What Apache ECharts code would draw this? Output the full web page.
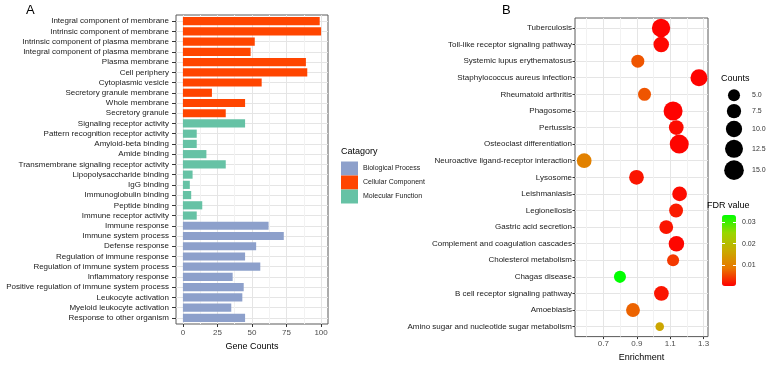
<!DOCTYPE html>
<html>
<head>
<meta charset="utf-8">
<script src="https://cdn.jsdelivr.net/npm/echarts@6.0.0/dist/echarts.min.js"></script>
<style>
  html, body { margin: 0; padding: 0; background: #fff; }
  #chart { width: 769px; height: 367px; }
</style>
</head>
<body>
<div id="chart"></div>
<script>
// Panel A: GO terms, listed top to bottom
var goTerms = [
  "Integral component of membrane", "Intrinsic component of membrane",
  "Intrinsic component of plasma membrane", "Integral component of plasma membrane",
  "Plasma membrane", "Cell periphery", "Cytoplasmic vesicle",
  "Secretory granule membrane", "Whole membrane", "Secretory granule",
  "Signaling receptor activity", "Pattern recognition receptor activity",
  "Amyloid-beta binding", "Amide binding", "Transmembrane signaling receptor activity",
  "Lipopolysaccharide binding", "IgG binding", "Immunoglobulin binding",
  "Peptide binding", "Immune receptor activity",
  "Immune response", "Immune system process", "Defense response",
  "Regulation of immune response", "Regulation of immune system process",
  "Inflammatory response", "Positive regulation of immune system process",
  "Leukocyte activation", "Myeloid leukocyte activation", "Response to other organism"
];
var goCounts = [99, 100, 52, 49, 89, 90, 57, 21, 45, 31,
                45, 10, 10, 17, 31, 7, 5, 6, 14, 10,
                62, 73, 53, 45, 56, 36, 44, 43, 35, 45];
var goGroups = [
  "Cellular Component", "Cellular Component", "Cellular Component", "Cellular Component",
  "Cellular Component", "Cellular Component", "Cellular Component", "Cellular Component",
  "Cellular Component", "Cellular Component",
  "Molecular Function", "Molecular Function", "Molecular Function", "Molecular Function",
  "Molecular Function", "Molecular Function", "Molecular Function", "Molecular Function",
  "Molecular Function", "Molecular Function",
  "Biological Process", "Biological Process", "Biological Process", "Biological Process",
  "Biological Process", "Biological Process", "Biological Process", "Biological Process",
  "Biological Process", "Biological Process"
];
var groupNames = ["Biological Process", "Cellular Component", "Molecular Function"];
var geneTicks = [0, 25, 50, 75, 100];
var geneMinor = [12.5, 37.5, 62.5, 87.5];

// Panel B: KEGG pathways, listed top to bottom
var keggTerms = [
  "Tuberculosis", "Toll-like receptor signaling pathway", "Systemic lupus erythematosus",
  "Staphylococcus aureus infection", "Rheumatoid arthritis", "Phagosome", "Pertussis",
  "Osteoclast differentiation", "Neuroactive ligand-receptor interaction", "Lysosome",
  "Leishmaniasis", "Legionellosis", "Gastric acid secretion",
  "Complement and coagulation cascades", "Cholesterol metabolism", "Chagas disease",
  "B cell receptor signaling pathway", "Amoebiasis",
  "Amino sugar and nucleotide sugar metabolism"
];
var keggEnrichment = [1.045, 1.046, 0.906, 1.272, 0.946, 1.117, 1.136, 1.154, 0.585, 0.898,
                      1.156, 1.135, 1.076, 1.137, 1.117, 0.799, 1.047, 0.877, 1.037];
var keggCounts = [13, 9, 6, 11, 6, 14, 8, 14, 8, 8, 8, 7, 7, 9, 5, 5, 8, 7, 2];
var keggFdr = [0.0002, 0.0005, 0.006, 0.0002, 0.006, 0.0002, 0.0008, 0.0003, 0.010, 0.0015,
               0.0008, 0.002, 0.0015, 0.0004, 0.004, 0.0335, 0.0015, 0.007, 0.016];
var enrichTicks = [0.7, 0.9, 1.1, 1.3];
var enrichMinor = [0.6, 0.8, 1.0, 1.2];
var sizeBreaks = [5, 7.5, 10, 12.5, 15];
var fdrTicks = [0.01, 0.02, 0.03];

var groupColors = {
  "Biological Process": "#8DA0CB",
  "Cellular Component": "#FF4500",
  "Molecular Function": "#66C2A5"
};
var fdrColors = ["#FF0000", "#E87700", "#C9AB00", "#98D700", "#00FF00"];
var font = "Liberation Sans, Arial, sans-serif";

function pointSize(count) {
  return Math.sqrt(24 * count + 25);
}

var chart = echarts.init(document.getElementById("chart"));

// discrete axes get 0.6 of a row as padding at each end (ggplot style)
var goIndex = goTerms.map(function (t, i) { return i; });
var keggIndex = keggTerms.map(function (t, i) { return i; });
var panelA = { left: 176, top: 15, width: 152, height: 309 };
var rowA = panelA.height / (goTerms.length + 0.2);

// bar series, one per GO category, stacked so they share a row
var barSeries = groupNames.map(function (g) {
  return {
    type: "bar",
    name: g,
    stack: "go",
    xAxisIndex: 6,
    yAxisIndex: 5,
    barCategoryGap: "20%",
    itemStyle: { color: groupColors[g] },
    emphasis: { disabled: true },
    data: goCounts.map(function (v, i) { return goGroups[i] === g ? v : "-"; })
  };
});

var keggData = keggTerms.map(function (t, i) {
  return [keggEnrichment[i], i, keggCounts[i], keggFdr[i], t];
});

// size legend keys: height of each key follows its circle
var keyCenters = [];
var yPos = 0;
sizeBreaks.forEach(function (b) {
  var h = pointSize(b) + 2.6;
  yPos += h / 2;
  keyCenters.push(yPos);
  yPos += h / 2;
});
var keyTotal = yPos;
var sizeData = sizeBreaks.map(function (b, i) { return [0.5, keyCenters[i], b]; });
function sizeLabel(v) {
  for (var i = 0; i < keyCenters.length; i++) {
    if (Math.abs(keyCenters[i] - v) < 0.01) return sizeBreaks[i].toFixed(1);
  }
  return "";
}

var tickStyle = { color: "#333333", width: 1 };

var option = {
  animation: false,
  textStyle: { fontFamily: font },
  title: [
    { text: "A", left: 26, top: 4, padding: 0, textStyle: { fontSize: 13, fontWeight: "normal", color: "#000" } },
    { text: "B", left: 502, top: 4, padding: 0, textStyle: { fontSize: 13, fontWeight: "normal", color: "#000" } },
    { text: "Catagory", left: 341, top: 147, padding: 0, textStyle: { fontSize: 9, fontWeight: "normal", color: "#000" } },
    { text: "Counts", left: 721, top: 74, padding: 0, textStyle: { fontSize: 9, fontWeight: "normal", color: "#000" } },
    { text: "FDR value", left: 707, top: 201, padding: 0, textStyle: { fontSize: 9, fontWeight: "normal", color: "#000" } }
  ],
  legend: {
    data: groupNames,
    orient: "vertical",
    left: 341,
    top: 161.5,
    padding: 0,
    itemWidth: 17,
    itemHeight: 14,
    itemGap: 0,
    icon: "rect",
    selectedMode: false,
    textStyle: { fontSize: 7, color: "#1a1a1a" }
  },
  visualMap: {
    type: "continuous",
    seriesIndex: 3,
    dimension: 3,
    min: 0,
    max: 0.0335,
    calculable: false,
    hoverLink: false,
    left: 722,
    top: 215,
    padding: 0,
    itemWidth: 14,
    itemHeight: 71,
    inRange: { color: fdrColors }
  },
  grid: [
    { left: panelA.left, top: panelA.top, width: panelA.width, height: panelA.height,
      show: true, borderColor: "#5a5a5a", borderWidth: 1, backgroundColor: "transparent" },
    { left: 575, top: 18, width: 133, height: 322, show: true, borderColor: "#5a5a5a", borderWidth: 1, backgroundColor: "transparent" },
    { left: 722, top: 215, width: 14, height: 71 },
    { left: 720, top: 88, width: 28, height: keyTotal },
    // bars only: inset so rows sit where the outer value axis puts them
    { left: panelA.left, top: panelA.top + rowA * 0.1, width: panelA.width, height: panelA.height - rowA * 0.2 }
  ],
  xAxis: [
    {
      type: "value", gridIndex: 0, min: -5, max: 105,
      axisLine: { show: false, onZero: false },
      axisTick: { show: true, length: 3, customValues: geneTicks, lineStyle: tickStyle },
      axisLabel: { customValues: geneTicks, margin: 5, fontSize: 8, color: "#4d4d4d" },
      splitLine: { show: true, lineStyle: { color: "#e5e5e5", width: 1 } },
      name: "Gene Counts", nameLocation: "middle", nameGap: 14,
      nameTextStyle: { fontSize: 9, color: "#000" }
    },
    {
      type: "value", gridIndex: 0, min: -5, max: 105, position: "top",
      axisLine: { show: false, onZero: false },
      axisTick: { show: false, customValues: geneMinor },
      axisLabel: { show: false },
      splitLine: { show: true, lineStyle: { color: "#f2f2f2", width: 1 } }
    },
    {
      type: "value", gridIndex: 1, min: 0.53, max: 1.326, position: "bottom",
      axisLine: { show: false, onZero: false },
      axisTick: { show: true, length: 2.5, customValues: enrichTicks, lineStyle: tickStyle },
      axisLabel: { customValues: enrichTicks, margin: 3.5, fontSize: 8, color: "#4d4d4d",
                   formatter: function (v) { return v.toFixed(1); } },
      splitLine: { show: true, lineStyle: { color: "#e5e5e5", width: 1 } },
      name: "Enrichment", nameLocation: "middle", nameGap: 14,
      nameTextStyle: { fontSize: 9, color: "#000" }
    },
    {
      type: "value", gridIndex: 1, min: 0.53, max: 1.326, position: "top",
      axisLine: { show: false, onZero: false },
      axisTick: { show: false, customValues: enrichMinor },
      axisLabel: { show: false },
      splitLine: { show: true, lineStyle: { color: "#f2f2f2", width: 1 } }
    },
    { type: "value", gridIndex: 2, min: 0, max: 1, show: false },
    { type: "value", gridIndex: 3, min: 0, max: 1, show: false },
    { type: "value", gridIndex: 4, min: -5, max: 105, show: false }
  ],
  yAxis: [
    {
      type: "value", gridIndex: 0, min: -0.6, max: goTerms.length - 0.4, inverse: true,
      axisLine: { show: false, onZero: false },
      axisTick: { show: true, length: 4, customValues: goIndex, lineStyle: tickStyle },
      axisLabel: { customValues: goIndex, fontSize: 8, color: "#1a1a1a", margin: 7,
                   formatter: function (v) { return goTerms[Math.round(v)]; } },
      splitLine: { show: true, lineStyle: { color: "#e5e5e5", width: 1 } }
    },
    {
      type: "value", gridIndex: 1, min: -0.6, max: keggTerms.length - 0.4, inverse: true,
      axisLine: { show: false, onZero: false },
      axisTick: { show: true, length: 2.5, customValues: keggIndex, lineStyle: tickStyle },
      axisLabel: { customValues: keggIndex, fontSize: 8, color: "#1a1a1a", margin: 3,
                   formatter: function (v) { return keggTerms[Math.round(v)]; } },
      splitLine: { show: true, lineStyle: { color: "#e5e5e5", width: 1 } }
    },
    {
      type: "value", gridIndex: 2, min: 0, max: 0.0335, position: "right", z: 10,
      axisLine: { show: false, onZero: false },
      axisTick: { show: true, inside: true, length: 3, customValues: fdrTicks, lineStyle: { color: "#fff", width: 1 } },
      axisLabel: { customValues: fdrTicks, margin: 6, fontSize: 7, color: "#333",
                   formatter: function (v) { return v.toFixed(2); } },
      splitLine: { show: false }
    },
    {
      type: "value", gridIndex: 2, min: 0, max: 0.0335, position: "left", z: 10,
      axisLine: { show: false, onZero: false },
      axisTick: { show: true, inside: true, length: 3, customValues: fdrTicks, lineStyle: { color: "#fff", width: 1 } },
      axisLabel: { show: false },
      splitLine: { show: false }
    },
    {
      type: "value", gridIndex: 3, min: 0, max: keyTotal, inverse: true, position: "right",
      axisLine: { show: false, onZero: false },
      axisTick: { show: false, customValues: keyCenters },
      axisLabel: { customValues: keyCenters, margin: 4, fontSize: 7, color: "#333", formatter: sizeLabel },
      splitLine: { show: false }
    },
    { type: "category", gridIndex: 4, data: goTerms, inverse: true, show: false }
  ],
  series: barSeries.concat([
    {
      type: "scatter",
      name: "KEGG",
      xAxisIndex: 2,
      yAxisIndex: 1,
      data: keggData,
      symbolSize: function (v) { return pointSize(v[2]); },
      itemStyle: { opacity: 1 },
      emphasis: { disabled: true }
    },
    {
      type: "scatter",
      name: "Counts",
      xAxisIndex: 5,
      yAxisIndex: 4,
      data: sizeData,
      symbolSize: function (v) { return pointSize(v[2]); },
      itemStyle: { color: "#000", opacity: 1 },
      emphasis: { disabled: true }
    }
  ])
};

chart.setOption(option);
</script>
</body>
</html>
